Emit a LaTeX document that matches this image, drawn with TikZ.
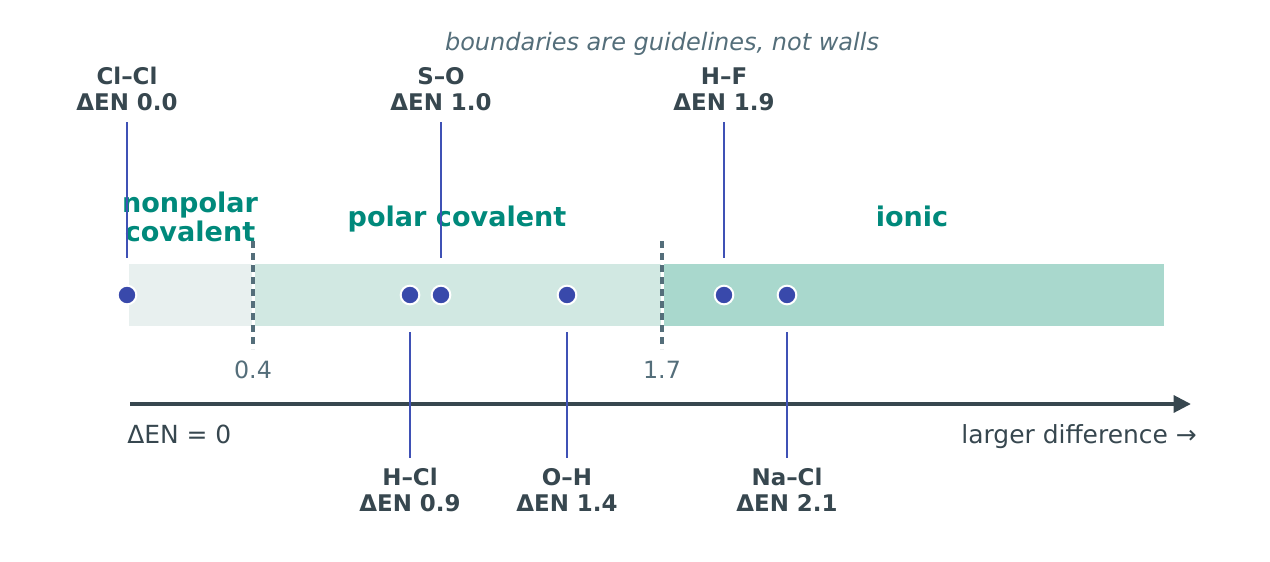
\documentclass[tikz,border=0pt]{standalone}
\usepackage{fontspec}
\setmainfont{DejaVu Sans}
\usetikzlibrary{arrows.meta}
\definecolor{titlec}{HTML}{546E7A}
\definecolor{darkc}{HTML}{37474F}
\definecolor{tealc}{HTML}{00897B}
\definecolor{leadc}{HTML}{3F51B5}
\definecolor{dotc}{HTML}{3949AB}
\definecolor{bandA}{HTML}{E8F0EF}
\definecolor{bandB}{HTML}{D1E8E2}
\definecolor{bandC}{HTML}{A9D8CD}
\tikzset{
  bondlbl/.style={font=\fontsize{17.2}{19.5}\selectfont\bfseries, text=darkc, align=center, inner sep=0pt},
  regionlbl/.style={font=\fontsize{20.3}{21.8}\selectfont\bfseries, text=tealc, align=center, inner sep=0pt},
  ticklbl/.style={font=\fontsize{17.8}{20}\selectfont, text=titlec, inner sep=0pt},
  axislbl/.style={font=\fontsize{18.7}{20}\selectfont, text=darkc, inner sep=0pt},
  leader/.style={draw=leadc, line width=2.1pt},
  bonddot/.style={circle, fill=dotc, draw=white, line width=1.5pt, minimum size=14pt, inner sep=0pt},
  boundary/.style={draw=titlec, line width=2.8pt, dash pattern=on 5.5pt off 3.5pt},
}
\begin{document}
\begin{tikzpicture}[x=0.75pt,y=-0.75pt]
\useasboundingbox (0,0) rectangle (1270,561);
% title
\node[font=\fontsize{18}{20}\selectfont\itshape, text=titlec, inner sep=0pt] (title) at (662,44) {boundaries are guidelines, not walls};
% bands
\fill[bandA] (129,264) rectangle (252,326);
\fill[bandB] (255,264) rectangle (661,326);
\fill[bandC] (664,264) rectangle (1164,326);
% boundaries
\draw[boundary] (253,241) -- (253,349);
\draw[boundary] (662,241) -- (662,349);
\node[ticklbl] (t04) at (253,370) {0.4};
\node[ticklbl] (t17) at (662,370) {1.7};
% region labels
\node[regionlbl] (rnp) at (190,217) {nonpolar\\covalent};
\node[regionlbl, anchor=base] (rpc) at (457,226) {polar covalent};
\node[regionlbl, anchor=base] (rio) at (912,226) {ionic};
% axis
\coordinate (ax0) at (130,404);
\coordinate (ax1) at (1191,404);
\draw[darkc, line width=3pt, -{Triangle[length=13pt,width=12.5pt]}] (ax0) -- (ax1);
\node[axislbl, anchor=base west] (a0) at (127,443) {ΔEN = 0};
\node[axislbl, anchor=base east] (a1) at (1197,443) {larger difference →};
% top bonds
\node[bondlbl] (clcl) at (127,89) {Cl–Cl\\ΔEN 0.0};
\node[bondlbl] (so) at (441,89) {S–O\\ΔEN 1.0};
\node[bondlbl] (hf) at (724,89) {H–F\\ΔEN 1.9};
% bottom bonds
\node[bondlbl] (hcl) at (410,490) {H–Cl\\ΔEN 0.9};
\node[bondlbl] (oh) at (567,490) {O–H\\ΔEN 1.4};
\node[bondlbl] (nacl) at (787,490) {Na–Cl\\ΔEN 2.1};
% leader coordinates
\coordinate (clclA) at (127,122); \coordinate (clclB) at (127,258);
\coordinate (soA) at (441,122); \coordinate (soB) at (441,258);
\coordinate (hfA) at (724,122); \coordinate (hfB) at (724,258);
\coordinate (hclA) at (410,332); \coordinate (hclB) at (410,458);
\coordinate (ohA) at (567,332); \coordinate (ohB) at (567,458);
\coordinate (naclA) at (787,332); \coordinate (naclB) at (787,458);
\draw[leader] (clclA) -- (clclB);
\draw[leader] (soA) -- (soB);
\draw[leader] (hfA) -- (hfB);
\draw[leader] (hclA) -- (hclB);
\draw[leader] (ohA) -- (ohB);
\draw[leader] (naclA) -- (naclB);
% dots
\node[bonddot] (d1) at (127,295) {};
\node[bonddot] (d2) at (410,295) {};
\node[bonddot] (d3) at (441,295) {};
\node[bonddot] (d4) at (567,295) {};
\node[bonddot] (d5) at (724,295) {};
\node[bonddot] (d6) at (787,295) {};
\end{tikzpicture}
\end{document}
